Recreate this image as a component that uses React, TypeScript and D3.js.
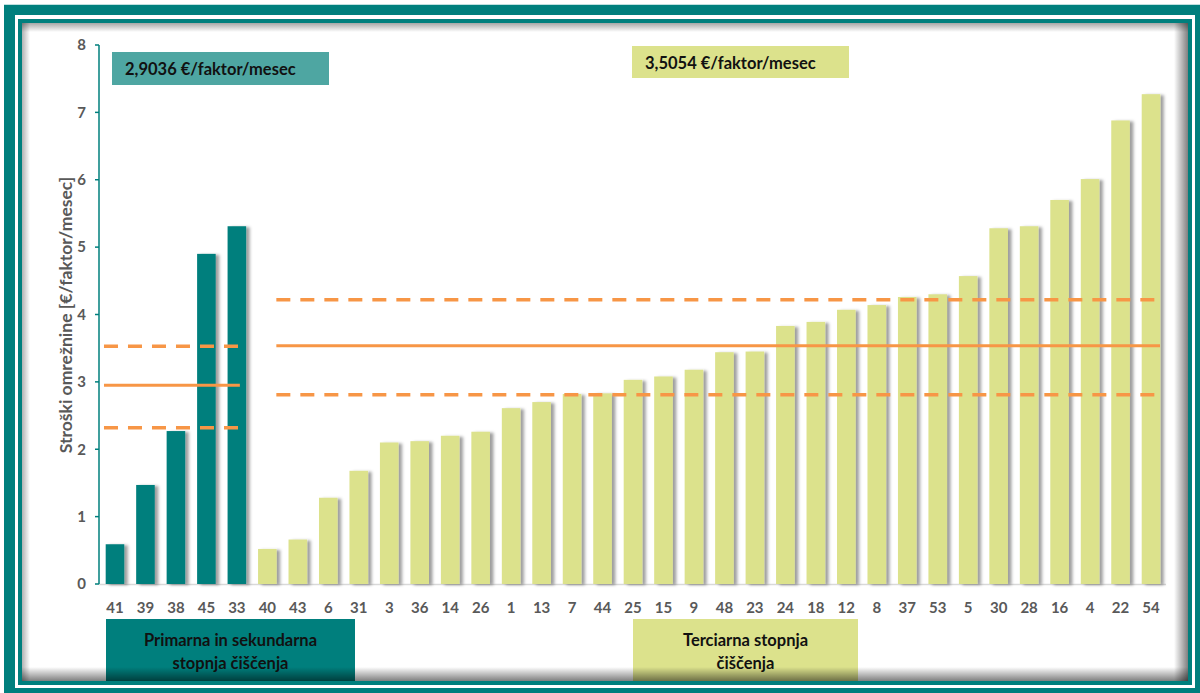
import React from "react";
import * as d3 from "d3";

const primaryCats = ["41", "39", "38", "45", "33"];
const primaryVals = [0.59, 1.47, 2.27, 4.9, 5.31];
const tertiaryCats = ["40", "43", "6", "31", "3", "36", "14", "26", "1", "13", "7", "44", "25", "15", "9", "48", "23", "24", "18", "12", "8", "37", "53", "5", "30", "28", "16", "4", "22", "54"];
const tertiaryVals = [0.52, 0.66, 1.28, 1.68, 2.1, 2.12, 2.2, 2.26, 2.61, 2.7, 2.82, 2.83, 3.03, 3.08, 3.18, 3.44, 3.45, 3.83, 3.89, 4.07, 4.14, 4.26, 4.3, 4.57, 5.28, 5.31, 5.7, 6.01, 6.88, 7.27];
const yTicks = [0, 1, 2, 3, 4, 5, 6, 7, 8];
const primaryLines = { mean: 2.95, upper: 3.53, lower: 2.32 };
const tertiaryLines = { mean: 3.535, upper: 4.22, lower: 2.81 };
const primaryLabel = "2,9036 €/faktor/mesec";
const tertiaryLabel = "3,5054 €/faktor/mesec";
const yTitle = "Stroški omrežnine [€/faktor/mesec]";
const primaryGroup = ["Primarna in sekundarna", "stopnja čiščenja"];
const tertiaryGroup = ["Terciarna stopnja", "čiščenja"];

const TEAL = "#007F7D";
const GREEN = "#DCE28C";
const ORANGE = "#F79646";
const GRAY = "#595959";
const FONT = "Lato, 'Open Sans', sans-serif";

export default function App() {
  const W = 1200, H = 693;
  const cats = [...primaryCats, ...tertiaryCats];
  const vals = [...primaryVals, ...tertiaryVals];
  const x = d3.scaleBand<string>().domain(cats).range([99.75, 1166.25]).paddingInner(0.39).paddingOuter(0.195);
  const y = d3.scaleLinear().domain([0, 8]).range([584, 45]);
  const bw = x.bandwidth();
  const cx = (c: string) => (x(c) as number) + bw / 2;

  const lx0 = cx("41") - 11, lx1 = cx("33") + 3;
  const rx0 = cx("40") + 9, rx1 = cx("54") + 9;

  const hline = (x0: number, x1: number, v: number, dashed: boolean, key: string) => (
    <line key={key} x1={x0} x2={x1} y1={y(v)} y2={y(v)} stroke={ORANGE} strokeWidth={dashed ? 3.5 : 3} strokeDasharray={dashed ? "14 10" : undefined} />
  );

  return (
    <svg width={W} height={H} style={{ position: "absolute", left: 0, top: 0 }} fontFamily={FONT}>
      <defs>
        <filter id="sh" x="-30%" y="-10%" width="180%" height="130%">
          <feDropShadow dx="3.5" dy="1" stdDeviation="1.6" floodColor="#000" floodOpacity="0.38" />
        </filter>
        <linearGradient id="gT" x1="0" y1="0" x2="0" y2="1">
          <stop offset="0" stopColor="#000" stopOpacity="0.35" />
          <stop offset="1" stopColor="#000" stopOpacity="0" />
        </linearGradient>
        <linearGradient id="gB" x1="0" y1="1" x2="0" y2="0">
          <stop offset="0" stopColor="#000" stopOpacity="0.5" />
          <stop offset="1" stopColor="#000" stopOpacity="0" />
        </linearGradient>
        <linearGradient id="gL" x1="0" y1="0" x2="1" y2="0">
          <stop offset="0" stopColor="#000" stopOpacity="0.3" />
          <stop offset="1" stopColor="#000" stopOpacity="0" />
        </linearGradient>
        <linearGradient id="gR" x1="1" y1="0" x2="0" y2="0">
          <stop offset="0" stopColor="#000" stopOpacity="0.5" />
          <stop offset="1" stopColor="#000" stopOpacity="0" />
        </linearGradient>
      </defs>
      <rect x={0} y={0} width={W} height={H} fill="#fff" />
      <rect x={4} y={4} width={1196} height={1} fill="#bfe0df" />
      <rect x={4} y={5} width={1196} height={688} fill={TEAL} />
      <rect x={15} y={15} width={1180} height={673} fill="#fff" />
      <rect x={18} y={19} width={1174} height={666} fill={TEAL} />
      <rect x={22} y={23} width={1166} height={658} fill="#fff" />

      {/* boxes at top */}
      <rect x={112} y={52} width={217} height={33} fill="#4EA6A2" />
      <text x={125} y={74.5} fontSize={16.5} fontWeight={700} fill="#111">{primaryLabel}</text>
      <rect x={632} y={46} width={217} height={32} fill={GREEN} />
      <text x={645} y={68.5} fontSize={16.5} fontWeight={700} fill="#111">{tertiaryLabel}</text>

      {/* x axis line */}
      <line x1={99} x2={1166} y1={584.5} y2={584.5} stroke="#D9D9D9" strokeWidth={1.5} />

      {/* bars */}
      <g filter="url(#sh)">
        {cats.map((c, i) => (
          <rect key={c} x={x(c)} y={y(vals[i])} width={bw} height={y(0) - y(vals[i])} fill={i < primaryCats.length ? TEAL : GREEN} />
        ))}
      </g>

      {/* reference lines */}
      {hline(lx0, lx1, primaryLines.upper, true, "pu")}
      {hline(lx0, lx1, primaryLines.mean, false, "pm")}
      {hline(lx0, lx1, primaryLines.lower, true, "pl")}
      {hline(rx0, rx1, tertiaryLines.upper, true, "tu")}
      {hline(rx0, rx1, tertiaryLines.mean, false, "tm")}
      {hline(rx0, rx1, tertiaryLines.lower, true, "tl")}

      {/* y axis */}
      <line x1={99} x2={99} y1={y(8)} y2={y(0)} stroke={TEAL} strokeWidth={1.5} />
      {yTicks.map((t) => (
        <g key={t}>
          <line x1={95} x2={99} y1={y(t)} y2={y(t)} stroke={TEAL} strokeWidth={1.5} />
          <text x={86} y={y(t)} dy="0.35em" textAnchor="end" fontSize={15} fontWeight={700} fill={GRAY}>{t}</text>
        </g>
      ))}
      <text transform={`translate(66,${315}) rotate(-90)`} textAnchor="middle" dy="0.35em" fontSize={17.5} fontWeight={700} fill={GRAY}>{yTitle}</text>

      {/* x tick labels */}
      {cats.map((c) => (
        <text key={c} x={cx(c)} y={608} dy="0.35em" textAnchor="middle" fontSize={15} fontWeight={700} fill={GRAY}>{c}</text>
      ))}

      {/* group boxes */}
      <rect x={106} y={619} width={249} height={62} fill={TEAL} />
      {primaryGroup.map((s, i) => (
        <text key={s} x={230.5} y={640 + i * 23} dy="0.35em" textAnchor="middle" fontSize={16.5} fontWeight={700} fill="#111">{s}</text>
      ))}
      <rect x={633} y={619} width={225} height={62} fill={GREEN} />
      {tertiaryGroup.map((s, i) => (
        <text key={s} x={745.5} y={640 + i * 23} dy="0.35em" textAnchor="middle" fontSize={16.5} fontWeight={700} fill="#111">{s}</text>
      ))}

      {/* inner shadow of panel */}
      <rect x={22} y={23} width={1166} height={9} fill="url(#gT)" />
      <rect x={22} y={23} width={8} height={658} fill="url(#gL)" />
      <rect x={1174} y={23} width={14} height={658} fill="url(#gR)" />
      <rect x={22} y={667} width={1166} height={14} fill="url(#gB)" />
    </svg>
  );
}
